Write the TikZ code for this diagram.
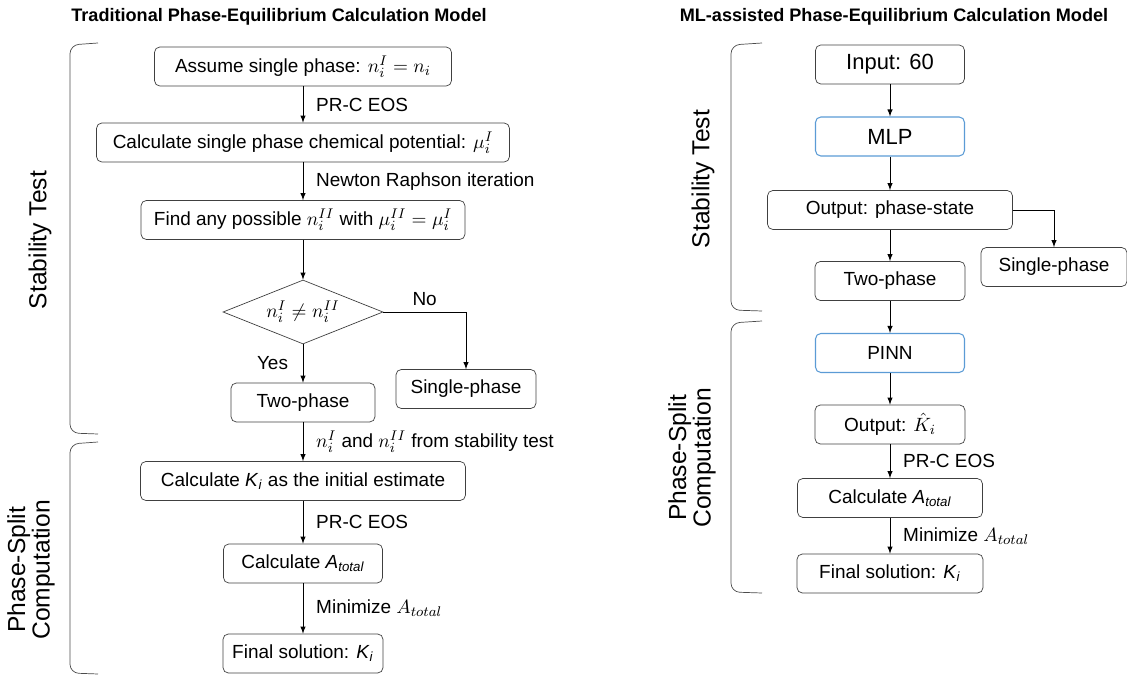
\documentclass[tikz,border=0pt]{standalone}
\usepackage{fontspec}
\setmainfont{Liberation Sans}
\usetikzlibrary{shapes.geometric}
\definecolor{mlblue}{HTML}{5B9BD5}
\tikzset{
  box/.style={draw=black!75,rounded corners=3pt,minimum height=.78cm,inner sep=1pt,font=\fontsize{10.8}{12}\selectfont},
  mlbox/.style={box,draw=mlblue,line width=.6pt},
  bigtxt/.style={font=\fontsize{12.5}{14}\selectfont},
  lbl/.style={right,xshift=4pt,font=\fontsize{10.8}{12}\selectfont},
  ttl/.style={font=\fontsize{10.3}{12}\selectfont\bfseries},
  side/.style={rotate=90,align=center,font=\fontsize{14}{14}\selectfont},
  brace/.style={draw=black!70,rounded corners=5pt},
}
\begin{document}
\begin{tikzpicture}[x=0.02cm,y=-0.02cm,>=latex]
  \useasboundingbox (0,0) rectangle (1127,675);
  % titles
  \node[ttl] (tl) at (279,17) {Traditional Phase-Equilibrium Calculation Model};
  \node[ttl] (tr) at (894,17) {ML-assisted Phase-Equilibrium Calculation Model};
  % brackets
  \draw[brace] (98,43)--(70,45)--(70,433)--(98,434) (98,442)--(70,444)--(70,673)--(98,674);
  \draw[brace] (762,43)--(731,45)--(731,310)--(762,311) (762,321)--(731,323)--(731,592)--(762,593);
  \node[side] (st1) at (40,240) {Stability Test};
  \node[side] (ps1) at (31,570) {Phase-Split\\Computation};
  \node[side] (st2) at (703,179) {Stability Test};
  \node[side] (ps2) at (692,458) {Phase-Split\\Computation};
  % traditional model
  \node[box,minimum width=5.94cm] (A) at (303,66.5) {Assume single phase: $n_i^I=n_i$};
  \node[box,minimum width=8.26cm] (B) at (303,142.5) {Calculate single phase chemical potential: $\mu_i^I$};
  \node[box,minimum width=6.48cm] (C) at (303,220) {Find any possible $n_i^{II}$ with $\mu_i^{II}=\mu_i^I$};
  \node[diamond,draw=black!75,shape aspect=2.5,minimum width=3.2cm,minimum height=1.28cm,inner sep=0pt,font=\fontsize{10.8}{12}\selectfont] (D) at (303,312) {$n_i^I\neq n_i^{II}$};
  \node[box,minimum width=2.8cm] (E) at (466,389) {Single-phase};
  \node[box,minimum width=2.88cm] (F) at (303,402.5) {Two-phase};
  \node[box,minimum width=6.5cm] (G) at (303,481) {Calculate \textit{K}\textsubscript{\textit{i}} as the initial estimate};
  \node[box,minimum width=3.18cm] (H) at (303,563.5) {Calculate \textit{A}\textsubscript{\textit{total}}};
  \node[box,minimum width=3.2cm] (I) at (303,653.5) {Final solution: \textit{K}\textsubscript{\textit{i}}};
  \draw[->] (A) -- node[lbl]{PR-C EOS} (B);
  \draw[->] (B) -- node[lbl]{Newton Raphson iteration} (C);
  \draw[->] (C) -- (D);
  \draw[->] (D.east) -| node[pos=.25,above,font=\fontsize{10.8}{12}\selectfont]{No} (E.north);
  \draw[->] (D) -- node[left,xshift=-5pt,font=\fontsize{10.8}{12}\selectfont]{Yes} (F);
  \draw[->] (F) -- node[lbl]{$n_i^I$ and $n_i^{II}$ from stability test} (G);
  \draw[->] (G) -- node[lbl]{PR-C EOS} (H);
  \draw[->] (H) -- node[lbl]{Minimize $A_{total}$} (I);
  % ML-assisted model
  \node[box,bigtxt,minimum width=2.98cm] (in) at (890,64.5) {Input: 60};
  \node[mlbox,bigtxt,minimum width=2.98cm] (mlp) at (890,136.5) {MLP};
  \node[box,minimum width=4.9cm] (out) at (890,210) {Output: phase-state};
  \node[box,minimum width=2.92cm] (sp) at (1054,267) {Single-phase};
  \node[box,minimum width=3cm] (tp) at (890,281) {Two-phase};
  \node[mlbox,minimum width=2.98cm] (pinn) at (890,353) {PINN};
  \node[box,minimum width=3cm] (kh) at (890,424.5) {Output: $\hat{K}_i$};
  \node[box,minimum width=3.7cm] (at) at (890,498) {Calculate \textit{A}\textsubscript{\textit{total}}};
  \node[box,minimum width=3.72cm] (fs) at (890,573.5) {Final solution: \textit{K}\textsubscript{\textit{i}}};
  \foreach \u/\v in {in/mlp,mlp/out,out/tp,tp/pinn,pinn/kh} \draw[->] (\u) -- (\v);
  \draw[->] (out.east) -| (sp.north);
  \draw[->] (kh) -- node[lbl]{PR-C EOS} (at);
  \draw[->] (at) -- node[lbl]{Minimize $A_{total}$} (fs);
\end{tikzpicture}
\end{document}
